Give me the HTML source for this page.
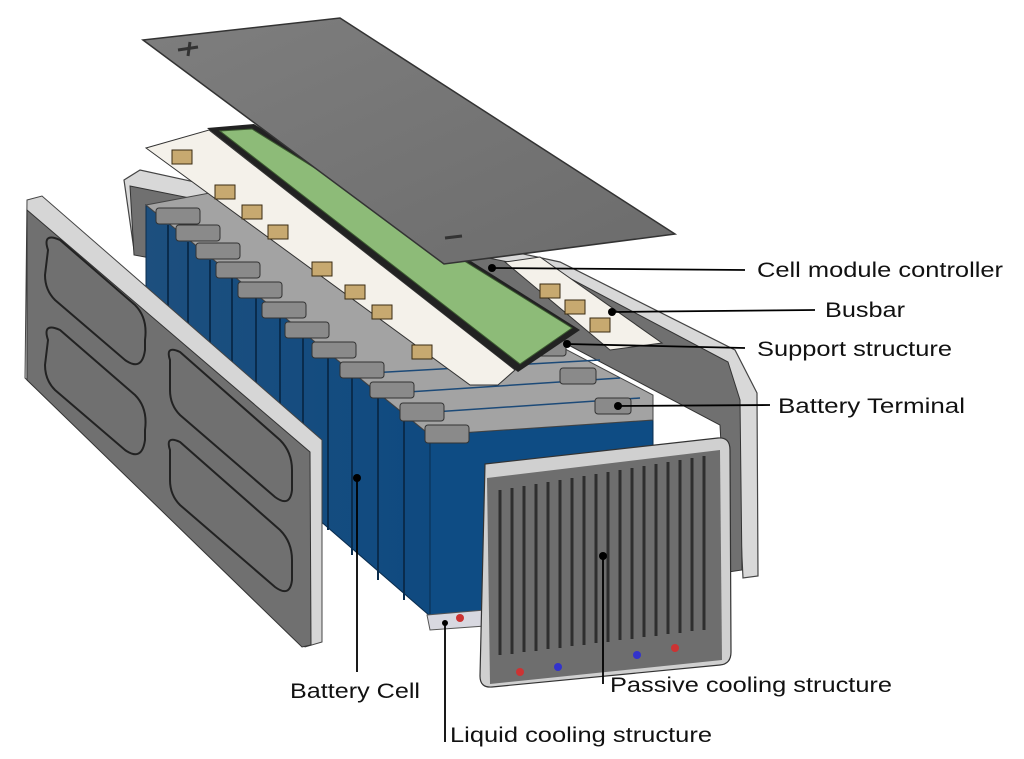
<!DOCTYPE html>
<html><head><meta charset="utf-8"><style>
html,body{margin:0;padding:0;background:#fff;width:1024px;height:759px;overflow:hidden}
svg{display:block}
text{font-family:"Liberation Sans",sans-serif;font-size:21px;fill:#111}
</style></head><body>
<svg width="1024" height="759" viewBox="0 0 1024 759">
<defs>
<linearGradient id="blue" x1="0" y1="0" x2="1" y2="0">
<stop offset="0" stop-color="#1d4f7e"/><stop offset="1" stop-color="#0f4a80"/></linearGradient>
<linearGradient id="gry" x1="0" y1="0" x2="1" y2="1">
<stop offset="0" stop-color="#7e7e7e"/><stop offset="1" stop-color="#6c6c6c"/></linearGradient>
</defs>
<polygon points="124,180 140,170 560,262 735,350 757,393 758,576 743,578 735,420 560,320 134,250" fill="#d8d8d8" stroke="#444" stroke-width="1.2"/>
<polygon points="130,186 558,272 728,362 740,400 742,570 728,572 720,425 540,330 134,255" fill="#707070" stroke="#333" stroke-width="1"/>
<polygon points="146,205 430,435 430,616 311,513 146,300" fill="url(#blue)" stroke="#0a2c4d"/>
<polygon points="430,435 653,420 653,600 430,616" fill="#0e4c84" stroke="#0a2c4d"/>
<g stroke="#0a2c4d" stroke-width="2">
<line x1="168" y1="225" x2="168" y2="320"/><line x1="188" y1="242" x2="188" y2="345"/>
<line x1="210" y1="260" x2="210" y2="370"/><line x1="232" y1="278" x2="232" y2="400"/>
<line x1="256" y1="298" x2="256" y2="440"/><line x1="280" y1="318" x2="280" y2="470"/>
<line x1="303" y1="337" x2="303" y2="500"/><line x1="328" y1="356" x2="328" y2="530"/>
<line x1="352" y1="376" x2="352" y2="555"/><line x1="378" y1="396" x2="378" y2="580"/>
<line x1="404" y1="416" x2="404" y2="600"/>
</g>
<polygon points="146,205 252,185 653,395 653,420 430,435" fill="#a3a3a3" stroke="#444"/>
<g stroke="#1c4a78" stroke-width="1.5">
<line x1="404" y1="414" x2="640" y2="398"/><line x1="378" y1="394" x2="620" y2="378"/><line x1="352" y1="374" x2="600" y2="360"/>
</g>
<g fill="#8a8a8a" stroke="#333">
<rect x="425" y="425" width="44" height="18" rx="3"/>
<rect x="400" y="403" width="44" height="18" rx="3"/>
<rect x="370" y="382" width="44" height="16" rx="3"/>
<rect x="340" y="362" width="44" height="16" rx="3"/>
<rect x="312" y="342" width="44" height="16" rx="3"/>
<rect x="285" y="322" width="44" height="16" rx="3"/>
<rect x="262" y="302" width="44" height="16" rx="3"/>
<rect x="238" y="282" width="44" height="16" rx="3"/>
<rect x="216" y="262" width="44" height="16" rx="3"/>
<rect x="196" y="243" width="44" height="16" rx="3"/>
<rect x="176" y="225" width="44" height="16" rx="3"/>
<rect x="156" y="208" width="44" height="16" rx="3"/>
<rect x="595" y="398" width="36" height="16" rx="3"/>
<rect x="560" y="368" width="36" height="16" rx="3"/>
<rect x="530" y="340" width="36" height="16" rx="3"/>
</g>
<polygon points="146,148 209,130 515,370 498,385 470,385" fill="#f4f1ea" stroke="#333"/>
<polygon points="505,262 540,257 662,343 610,350" fill="#f4f1ea" stroke="#333"/>
<g fill="#c7a970" stroke="#3a2c12">
<rect x="172" y="150" width="20" height="14"/><rect x="215" y="185" width="20" height="14"/>
<rect x="242" y="205" width="20" height="14"/><rect x="268" y="225" width="20" height="14"/>
<rect x="312" y="262" width="20" height="14"/><rect x="345" y="285" width="20" height="14"/>
<rect x="372" y="305" width="20" height="14"/><rect x="412" y="345" width="20" height="14"/>
<rect x="540" y="284" width="20" height="14"/><rect x="565" y="300" width="20" height="14"/>
<rect x="590" y="318" width="20" height="14"/>
</g>
<polygon points="207,128 254,124 580,330 518,372" fill="#222"/>
<polygon points="220,131 252,129 572,328 520,364" fill="#8dbb78" stroke="#3c5a30"/>
<polygon points="143,40 340,18 675,234 444,264" fill="url(#gry)" stroke="#333" stroke-width="1.5"/>
<line x1="178" y1="50" x2="198" y2="47" stroke="#333" stroke-width="3"/>
<line x1="190" y1="42" x2="188" y2="56" stroke="#333" stroke-width="3"/>
<line x1="445" y1="238" x2="462" y2="236" stroke="#333" stroke-width="3"/>
<polygon points="27,200 42,196 322,440 322,642 305,647 25,378" fill="#d6d6d6" stroke="#444"/>
<polygon points="27,210 310,452 311,645 302,647 27,380" fill="#707070" stroke="#333"/>
<g fill="none" stroke="#222" stroke-width="2">
<path d="M48,250 Q42,232 60,240 L135,305 Q148,318 145,340 L145,350 Q142,372 125,360 L55,300 Q45,290 45,275 Z"/>
<path d="M48,340 Q42,322 60,330 L135,395 Q148,408 145,430 L145,440 Q142,462 125,450 L55,390 Q45,380 45,365 Z"/>
<path d="M170,360 Q165,345 180,352 L280,440 Q292,452 292,470 L292,490 Q290,508 275,497 L180,415 Q170,405 170,390 Z"/>
<path d="M170,450 Q165,435 180,442 L280,530 Q292,542 292,560 L292,580 Q290,598 275,587 L180,505 Q170,495 170,480 Z"/>
</g>
<polygon points="427,615 485,610 485,626 430,630" fill="#d8d8e0" stroke="#555"/>
<circle cx="460" cy="618" r="4" fill="#c33"/>
<path d="M485,464 L718,438 Q730,437 730,450 L731,652 Q731,664 720,665 L492,687 Q480,688 480,676 Z" fill="#d0d0d0" stroke="#333" stroke-width="1.2"/>
<path d="M487,478 L720,450 L722,660 L490,684 Z" fill="#6e6e6e"/>
<g stroke="#2e2e2e" stroke-width="3">
<line x1="500" y1="490" x2="500" y2="655"/><line x1="512" y1="488" x2="512" y2="654"/>
<line x1="524" y1="486" x2="524" y2="652"/><line x1="536" y1="484" x2="536" y2="651"/>
<line x1="548" y1="482" x2="548" y2="649"/><line x1="560" y1="480" x2="560" y2="648"/>
<line x1="572" y1="478" x2="572" y2="646"/><line x1="584" y1="476" x2="584" y2="645"/>
<line x1="596" y1="474" x2="596" y2="643"/><line x1="608" y1="472" x2="608" y2="642"/>
<line x1="620" y1="470" x2="620" y2="640"/><line x1="632" y1="468" x2="632" y2="639"/>
<line x1="644" y1="466" x2="644" y2="637"/><line x1="656" y1="464" x2="656" y2="636"/>
<line x1="668" y1="462" x2="668" y2="634"/><line x1="680" y1="460" x2="680" y2="633"/>
<line x1="692" y1="458" x2="692" y2="631"/><line x1="704" y1="456" x2="704" y2="630"/>
</g>
<circle cx="520" cy="672" r="4" fill="#c33"/><circle cx="558" cy="667" r="4" fill="#33c"/>
<circle cx="637" cy="655" r="4" fill="#33c"/><circle cx="675" cy="648" r="4" fill="#c33"/>
<g stroke="#000" stroke-width="1.8">
<line x1="490" y1="268" x2="745" y2="270"/>
<line x1="612" y1="312" x2="815" y2="310"/>
<line x1="567" y1="344" x2="745" y2="348"/>
<line x1="618" y1="406" x2="770" y2="405"/>
<line x1="357" y1="475" x2="357" y2="672"/>
<line x1="603" y1="553" x2="603" y2="684"/>
<line x1="445" y1="622" x2="445" y2="742"/>
</g>
<g fill="#000"><circle cx="492" cy="268" r="4"/><circle cx="612" cy="312" r="4"/><circle cx="567" cy="344" r="4"/><circle cx="618" cy="406" r="4"/><circle cx="357" cy="478" r="4"/><circle cx="603" cy="556" r="4"/><circle cx="445" cy="623" r="3"/></g>
<text x="757" y="277" textLength="246" lengthAdjust="spacingAndGlyphs">Cell module controller</text>
<text x="825" y="317" textLength="80" lengthAdjust="spacingAndGlyphs">Busbar</text>
<text x="757" y="356" textLength="195" lengthAdjust="spacingAndGlyphs">Support structure</text>
<text x="778" y="413" textLength="187" lengthAdjust="spacingAndGlyphs">Battery Terminal</text>
<text x="290" y="698" textLength="130" lengthAdjust="spacingAndGlyphs">Battery Cell</text>
<text x="610" y="692" textLength="282" lengthAdjust="spacingAndGlyphs">Passive cooling structure</text>
<text x="450" y="742" textLength="262" lengthAdjust="spacingAndGlyphs">Liquid cooling structure</text>
</svg>
</body></html>
